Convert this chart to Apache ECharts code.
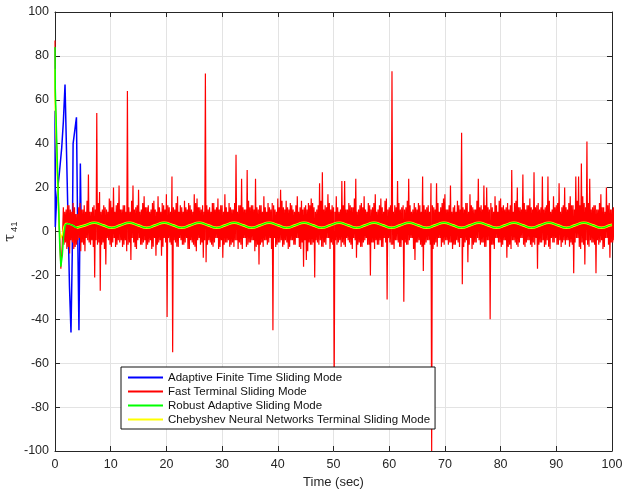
<!DOCTYPE html>
<html><head><meta charset="utf-8">
<script src="https://cdn.jsdelivr.net/npm/echarts@6/dist/echarts.min.js"></script>
<style>html,body{margin:0;padding:0;background:#fff}#c{width:622px;height:491px}</style>
</head><body><div id="c"></div>
<script>
const seriesNames = ['Adaptive Finite Time Sliding Mode','Fast Terminal Sliding Mode','Robust Adaptive Sliding Mode','Chebyshev Neural Networks Terminal Sliding Mode'];
const seriesColors = ['#0000ff','#ff0000','#00ff00','#ffff00'];

// Adaptive Finite Time (blue) transient
const blueT = [0, 0.05, 0.3, 0.8, 1.2, 1.5, 1.8, 2.3, 2.6, 2.87, 3.1, 3.25, 3.6, 3.85, 4.05, 4.3, 4.45, 4.55, 4.7, 5.0];
const blueV = [55, 2, 15, 27, 38, 50, 67, 10, -25, -46, -10, 40, 47, 52, 5, -45, -5, 31, 2, 3];

// Fast Terminal (red): start transient, then samples read every 0.125 s from t = 1.5
const redStartT = [0, 0.03, 0.4, 0.8, 1.05, 1.3];
const redStartV = [87, 62, 30, 0, -17, -6];
const redT0 = 1.5, redDt = 0.5;
const redHi = [
 11,10,12,9,11,8,13,10,9,26,
 9,12,54,18,10,11,9,14,20,12,
 21,10,12,64,9,21,11,19,10,16,
 11,9,13,10,16,9,12,17,11,25,
 10,16,12,9,11,13,10,17,15,11,
 12,72,10,9,13,11,10,12,17,9,
 11,10,35,12,24,10,28,11,12,24,
 10,12,16,9,11,13,10,15,19,11,
 14,10,12,9,16,11,10,12,13,15,
 11,10,22,27,12,17,10,11,16,9,
 23,23,10,12,11,24,10,13,16,9,
 12,11,17,10,15,9,15,11,73,12,
 23,10,12,11,24,9,13,10,12,25,
 10,12,22,11,22,9,13,17,10,21,
 11,9,12,45,10,13,17,11,10,24,
 12,21,20,10,11,16,9,15,12,11,
 10,28,13,20,11,26,10,12,11,27,
 12,10,25,11,25,9,16,12,22,11,
 20,10,16,12,25,25,31,13,41,24,
 11,12,10,17,11,20,13,10];
const redLo = [
 -6,-8,-10,-5,-7,-4,-9,-6,-3,-5,
 -4,-21,-6,-27,-5,-15,-4,-7,-3,-6,
 -5,-7,-4,-6,-13,-5,-8,-3,-6,-4,
 -6,-4,-7,-11,-5,-11,-3,-39,-5,-55,
 -5,-7,-4,-6,-3,-8,-5,-7,-4,-6,
 -12,-14,-4,-6,-5,-3,-7,-12,-5,-4,
 -6,-7,-4,-5,-8,-3,-6,-5,-4,-7,
 -15,-5,-4,-6,-3,-45,-7,-5,-4,-6,
 -5,-7,-4,-6,-3,-8,-16,-13,-5,-6,
 -21,-5,-4,-7,-6,-3,-5,-70,-6,-4,
 -5,-7,-4,-6,-3,-12,-5,-7,-4,-6,
 -20,-5,-4,-6,-7,-3,-31,-5,-6,-4,
 -5,-7,-32,-6,-4,-3,-13,-5,-6,-18,
 -5,-4,-100,-6,-7,-3,-5,-4,-6,-5,
 -6,-4,-7,-24,-5,-14,-3,-6,-5,-4,
 -5,-7,-4,-40,-6,-3,-5,-7,-4,-12,
 -6,-4,-5,-7,-3,-6,-5,-4,-7,-6,
 -17,-5,-4,-6,-7,-3,-5,-6,-4,-5,
 -6,-4,-5,-19,-3,-7,-5,-15,-6,-4,
 -5,-19,-6,-4,-7,-3,-12,-5];
const redHi2 = [
 9,12,10,13,8,11,10,12,14,9,
 11,10,13,9,12,10,15,11,9,13,
 10,12,9,11,14,10,12,9,13,11,
 12,10,14,9,11,13,10,12,9,11,
 13,9,11,14,10,12,9,13,11,10,
 9,12,11,13,10,15,12,9,11,13,
 10,13,9,12,11,10,14,12,10,11,
 12,9,11,13,10,12,9,11,14,10,
 11,13,10,12,9,14,11,10,12,13,
 9,12,14,10,11,13,12,9,11,10,
 12,10,13,11,15,9,12,11,10,13,
 10,13,9,12,11,14,10,12,9,11,
 13,11,10,14,12,10,11,13,9,12,
 11,9,12,10,13,11,15,10,12,9,
 12,14,10,11,13,9,12,10,14,11,
 10,12,11,13,9,12,14,11,10,13,
 12,9,14,11,10,13,12,15,10,11,
 13,11,10,12,14,10,11,13,9,12,
 11,13,12,10,14,12,16,11,13,10,
 12,10,13,11,9,12,10,11];
const redLo2 = [
 -5,-7,-4,-8,-6,-3,-5,-9,-4,-6,
 -7,-4,-5,-6,-8,-3,-6,-5,-7,-4,
 -4,-6,-9,-5,-3,-7,-4,-6,-5,-8,
 -5,-8,-3,-6,-4,-7,-5,-3,-6,-4,
 -7,-3,-6,-5,-8,-4,-6,-9,-3,-5,
 -4,-6,-5,-7,-3,-8,-4,-6,-5,-7,
 -5,-4,-8,-6,-3,-7,-5,-4,-9,-6,
 -6,-7,-4,-5,-8,-3,-6,-5,-7,-4,
 -8,-4,-6,-3,-7,-5,-4,-9,-6,-5,
 -4,-6,-7,-5,-3,-8,-6,-4,-5,-7,
 -6,-3,-5,-8,-4,-6,-7,-5,-3,-6,
 -5,-8,-6,-4,-7,-5,-3,-6,-8,-4,
 -7,-4,-5,-6,-3,-8,-5,-4,-7,-6,
 -4,-6,-8,-5,-3,-7,-6,-4,-5,-8,
 -6,-5,-3,-7,-4,-6,-8,-5,-3,-6,
 -5,-7,-4,-6,-8,-3,-5,-6,-4,-7,
 -8,-4,-6,-5,-3,-7,-4,-6,-5,-3,
 -6,-5,-7,-4,-8,-5,-3,-6,-7,-4,
 -4,-7,-6,-5,-3,-8,-6,-4,-7,-5,
 -6,-4,-5,-8,-3,-6,-5,-4];

// Robust Adaptive (green) and Chebyshev (yellow) transients
const greenStartT = [0, 0.05, 0.3, 0.6, 0.85, 1.05, 1.3, 1.55, 1.85, 2.3, 3.1, 3.9];
const greenStartV = [84, 65, 42, 15, -6, -16, -11, -2, 3.2, 3.6, 2.9, 1.7];
const yellowStartT = [0, 0.05, 0.4, 0.75, 1.0, 1.3, 1.65, 1.9, 2.3, 3.1, 3.9];
const yellowStartV = [74, 56, 25, 3, -3, -1.5, 2.5, 3.6, 3.6, 2.9, 1.7];

// steady oscillation samples (quarter-period readings)
const waveT = [3.9,5.47,7.04,8.61,10.18,11.75,13.32,14.89,16.46,18.03,19.6,21.17,22.74,24.31,25.88,27.45,29.02,30.59,32.16,33.73,35.3,36.87,38.44,40.01,41.58,43.15,44.72,46.29,47.86,49.43,51.0,52.57,54.14,55.71,57.28,58.85,60.42,61.99,63.56,65.13,66.7,68.27,69.84,71.41,72.98,74.55,76.12,77.69,79.26,80.83,82.4,83.97,85.54,87.11,88.68,90.25,91.82,93.39,94.96,96.53,98.1,99.67,100];
const greenWaveV = [1.7,2.85,4.0,2.85,1.7,2.85,4.0,2.85,1.7,2.85,4.0,2.85,1.7,2.85,4.0,2.85,1.7,2.85,4.0,2.85,1.7,2.85,4.0,2.85,1.7,2.85,4.0,2.85,1.7,2.85,4.0,2.85,1.7,2.85,4.0,2.85,1.7,2.85,4.0,2.85,1.7,2.85,4.0,2.85,1.7,2.85,4.0,2.85,1.7,2.85,4.0,2.85,1.7,2.85,4.0,2.85,1.7,2.85,4.0,2.85,1.7,2.85,3.0];
const yellowWaveV = greenWaveV.slice();

const xTicks = {min: 0, max: 100, interval: 10};
const yTicks = {min: -100, max: 100, interval: 20};

const zip = (t, v) => t.map((x, i) => [x, v[i]]);
const redData = zip(redStartT, redStartV);
redHi.forEach((h, k) => {
  const t = redT0 + k * redDt;
  redData.push([t, h]);
  redData.push([t + redDt / 4, redLo[k]]);
  redData.push([t + redDt / 2, redHi2[k]]);
  redData.push([t + 3 * redDt / 4, redLo2[k]]);
});

const font = 'Liberation Sans, Arial, Helvetica, sans-serif';
const axisColor = '#262626';
const baseAxis = {
  type: 'value',
  axisLine: {show: true, onZero: false, lineStyle: {color: axisColor, width: 1}},
  axisTick: {show: true, inside: true, length: 5, lineStyle: {color: axisColor}},
  axisLabel: {color: axisColor, fontFamily: font, fontSize: 12.5},
};

const chart = echarts.init(document.getElementById('c'), null, {renderer: 'canvas'});
chart.setOption({
  animation: false,
  backgroundColor: '#fff',
  grid: {left: 55, right: 10, top: 12, bottom: 40, containLabel: false, outerBoundsMode: 'none'},
  xAxis: [
    Object.assign({}, baseAxis, xTicks, {
      position: 'bottom',
      name: 'Time (sec)', nameLocation: 'middle', nameGap: 25, nameMoveOverlap: false,
      nameTextStyle: {color: axisColor, fontFamily: font, fontSize: 13},
      axisLabel: Object.assign({}, baseAxis.axisLabel, {margin: 7}),
      splitLine: {show: true, lineStyle: {color: '#e3e3e3', width: 1}}
    }),
    Object.assign({}, baseAxis, xTicks, {
      position: 'top', axisLabel: {show: false}, splitLine: {show: false}
    })
  ],
  yAxis: [
    Object.assign({}, baseAxis, yTicks, {
      position: 'left',
      name: '{a|τ}{b|41}', nameLocation: 'middle', nameGap: 36, nameRotate: 90, nameMoveOverlap: false,
      nameTextStyle: {color: axisColor, fontFamily: font,
        rich: {a: {fontSize: 14, fontFamily: 'DejaVu Serif', color: axisColor, verticalAlign: 'top'},
               b: {fontSize: 9.5, fontFamily: font, color: axisColor, verticalAlign: 'bottom', padding: [6, 0, 0, 2]}}},
      axisLabel: Object.assign({}, baseAxis.axisLabel, {margin: 6}),
      splitLine: {show: true, lineStyle: {color: '#e3e3e3', width: 1}}
    }),
    Object.assign({}, baseAxis, yTicks, {
      position: 'right', axisLabel: {show: false}, splitLine: {show: false}
    })
  ],
  legend: {
    orient: 'vertical', left: 121, top: 367,
    data: seriesNames,
    icon: 'rect', itemWidth: 35, itemHeight: 2, itemGap: 1,
    padding: [4, 5, 3, 7],
    backgroundColor: '#fff', borderColor: '#111', borderWidth: 1, borderRadius: 0,
    textStyle: {color: '#111', fontFamily: font, fontSize: 11.5, lineHeight: 13},
    selectedMode: false, z: 10
  },
  series: [
    {name: seriesNames[0], type: 'line', data: zip(blueT, blueV), showSymbol: false, symbol: 'none',
     lineStyle: {color: seriesColors[0], width: 1.5}, itemStyle: {color: seriesColors[0]}, z: 2},
    {name: seriesNames[1], type: 'line', data: redData, showSymbol: false, symbol: 'none',
     lineStyle: {color: seriesColors[1], width: 1.2}, itemStyle: {color: seriesColors[1]}, z: 3},
    {name: seriesNames[2], type: 'line', data: zip(greenStartT, greenStartV), showSymbol: false, symbol: 'none',
     lineStyle: {color: seriesColors[2], width: 1.5}, itemStyle: {color: seriesColors[2]}, z: 5},
    {name: seriesNames[3], type: 'line', data: zip(yellowStartT, yellowStartV), showSymbol: false, symbol: 'none',
     lineStyle: {color: seriesColors[3], width: 1.5}, itemStyle: {color: seriesColors[3]}, z: 4},
    {name: seriesNames[2], type: 'line', data: zip(waveT, greenWaveV), smooth: true, showSymbol: false, symbol: 'none',
     lineStyle: {color: seriesColors[2], width: 1.2}, itemStyle: {color: seriesColors[2]}, z: 5},
    {name: seriesNames[3], type: 'line', data: zip(waveT, yellowWaveV), smooth: true, showSymbol: false, symbol: 'none',
     lineStyle: {color: seriesColors[3], width: 2.6}, itemStyle: {color: seriesColors[3]}, z: 4}
  ]
});
</script></body></html>
